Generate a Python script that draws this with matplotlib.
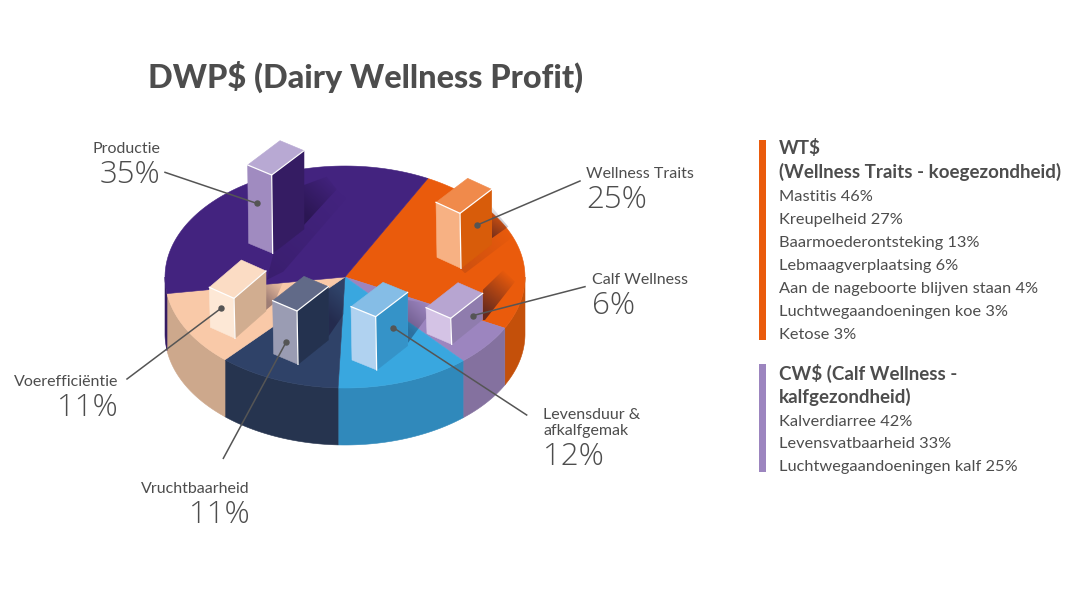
import numpy as np
import matplotlib
matplotlib.use('Agg')
import matplotlib.pyplot as plt
from matplotlib.patches import Polygon, Rectangle

# pie data
slice_names = ['Wellness Traits', 'Calf Wellness', 'Levensduur &\nafkalfgemak',
               'Vruchtbaarheid', 'Voerefficiëntie', 'Productie']
slice_values = [25, 6, 12, 11, 11, 35]

# side lists
wt_names = ['Mastitis', 'Kreupelheid', 'Baarmoederontsteking', 'Lebmaagverplaatsing',
            'Aan de nageboorte blijven staan', 'Luchtwegaandoeningen koe', 'Ketose']
wt_values = [46, 27, 13, 6, 4, 3, 3]
cw_names = ['Kalverdiarree', 'Levensvatbaarheid', 'Luchtwegaandoeningen kalf']
cw_values = [42, 33, 25]

TEXT = '#4d4d4d'
FONT = 'Lato'

# pie geometry in pixels
CX, CY, RX, RY, DEPTH = 345, 277, 180, 111, 57
START = 62.6

top_colors = ['#ea5b0c', '#9c85bf', '#39a7df', '#2f4268', '#f9c9a8', '#43237f']
side_colors = ['#c4500a', '#84719f', '#3089bb', '#26344f', '#cda88c', '#351c63']

# box faces per slice: top, left, right colour
box_colors = [('#f08a4b', '#f7b183', '#d85c0a'),
              ('#b7a5d1', '#d4c3e5', '#8f7cad'),
              ('#85bde6', '#b0d2f0', '#3593c8'),
              ('#616a88', '#9a9cb3', '#24324f'),
              ('#fbdcc4', '#fde8d6', '#d1ad90'),
              ('#b8a9d3', '#a08bc0', '#351c63')]

# front top corner, left vector, right vector, height (zoomed crop units)
box_shape = [((930, 250), (-72, -33), (95, -72), 165),
             ((902, 565), (-74, -32), (96, -75), 78),
             ((677, 560), (-74, -30), (96, -73), 160),
             ((441, 543), (-73, -31), (94, -73), 160),
             ((252, 505), (-74, -33), (96, -82), 120),
             ((365, 135), (-72, -30), (97, -73), 235)]

# drop shadows on the pie surface, zoomed crop units: outline, strength, fade from, fade to
shadows = [([(1025, 325), (1025, 230), (1075, 290)], 0.55, (1025, 325), (1075, 250)),
           ([(930, 415), (1025, 325), (1075, 290), (1090, 320), (945, 430)], 0.12, (950, 400), (1090, 300)),
           ([(998, 570), (998, 480), (1060, 420), (1095, 455), (1005, 570)], 0.6, (1000, 540), (1085, 440)),
           ([(773, 640), (773, 510), (830, 520), (828, 565)], 0.35, (773, 600), (840, 530)),
           ([(535, 620), (535, 470), (583, 445), (583, 550)], 0.4, (535, 560), (590, 500)),
           ([(348, 540), (348, 465), (400, 455), (372, 520)], 0.4, (348, 510), (400, 455)),
           ([(462, 285), (462, 165), (530, 140), (560, 178)], 0.5, (462, 250), (555, 150)),
           ([(350, 450), (370, 372), (462, 285), (560, 178), (590, 205), (400, 425)], 0.18, (370, 440), (590, 190))]

# leaders: text end, dot (zoomed crop units)
leaders = [((1290, 153), (982, 285)),
           ((1305, 470), (968, 557)),
           ((1130, 855), (730, 593)),
           ((220, 985), (408, 637)),
           ((-69, 747), (213, 535)),
           ((45, 127), (320, 220))]


def crop(p):
    return 150 + p[0] / 3, 130 + p[1] / 3


def arc(a, b, dy=0):
    t = np.radians(np.linspace(a, b, 80))
    return np.column_stack([CX + RX * np.cos(t), CY + dy - RY * np.sin(t)])


def add_poly(ax, pts, color, z):
    ax.add_patch(Polygon(pts, closed=True, facecolor=color, edgecolor=color, linewidth=0.4, zorder=z))


def add_shadow(ax, pts, strength, fade0, fade1):
    # dark overlay that fades out along fade0 -> fade1
    pts = np.array([crop(p) for p in pts])
    p0, p1 = np.array(crop(fade0)), np.array(crop(fade1))
    x0, y0 = pts.min(axis=0)
    x1, y1 = pts.max(axis=0)
    xs, ys = np.meshgrid(np.linspace(x0, x1, 80), np.linspace(y0, y1, 80))
    d = p1 - p0
    t = ((xs - p0[0]) * d[0] + (ys - p0[1]) * d[1]) / (d @ d)
    rgba = np.zeros(xs.shape + (4,))
    rgba[..., :3] = (0.08, 0.04, 0.16)
    rgba[..., 3] = strength * (1 - np.clip(t, 0, 1))
    im = ax.imshow(rgba, extent=(x0, x1, y1, y0), aspect='auto', zorder=3, interpolation='bilinear')
    clip = Polygon(pts, closed=True, transform=ax.transData, facecolor='none', edgecolor='none')
    ax.add_patch(clip)
    im.set_clip_path(clip)


def draw_box(ax, front, left, right, h, colors, z):
    fx, fy = crop(front)
    lx, ly = left[0] / 3, left[1] / 3
    rx, ry = right[0] / 3, right[1] / 3
    h = h / 3
    c_top, c_left, c_right = colors
    add_poly(ax, [(fx, fy), (fx + lx, fy + ly), (fx + lx + rx, fy + ly + ry), (fx + rx, fy + ry)], c_top, z)
    add_poly(ax, [(fx, fy), (fx + lx, fy + ly), (fx + lx + 1, fy + ly + h), (fx + 1, fy + h)], c_left, z)
    add_poly(ax, [(fx, fy), (fx + rx, fy + ry), (fx + rx, fy + ry + h), (fx + 1, fy + h)], c_right, z)
    ax.plot([fx + lx, fx, fx + rx], [fy + ly, fy, fy + ry], color='white', lw=0.9, zorder=z + 0.1)
    ax.plot([fx, fx + 1], [fy, fy + h], color='white', lw=0.9, zorder=z + 0.1)


fig = plt.figure(figsize=(10.8, 6.07), dpi=100, facecolor='white')
ax = fig.add_axes([0, 0, 1, 1])
ax.axis('off')

# pie: sides and top, wedge angles come from the values
angle = START
for val, top_c, side_c in zip(slice_values, top_colors, side_colors):
    end = angle - val * 3.6
    add_poly(ax, np.vstack([[(CX, CY)], arc(angle, end)]), top_c, 2)
    # only the lower half of the rim shows
    for a, b in [(angle, end), (angle + 360, end + 360)]:
        a2, b2 = min(a, 0), max(b, -180)
        if a2 > b2:
            add_poly(ax, np.vstack([arc(a2, b2), arc(b2, a2, DEPTH)]), side_c, 1)
    angle = end

for pts, strength, fade0, fade1 in shadows:
    add_shadow(ax, pts, strength, fade0, fade1)

# boxes back to front
for i in [5, 0, 4, 1, 3, 2]:
    front, left, right, h = box_shape[i]
    draw_box(ax, front, left, right, h, box_colors[i], 4 + i * 0.2 if i != 2 else 5.5)

for start, dot in leaders:
    x0, y0 = crop(start)
    x1, y1 = crop(dot)
    ax.plot([x0, x1], [y0, y1], color='#555555', lw=1.1, zorder=7)
    ax.plot(x1, y1, 'o', color='#555555', ms=3.6, zorder=7)

# title
ax.text(148, 77, 'DWP$ (Dairy Wellness Profit)', fontsize=23.3, fontweight='black', color=TEXT,
        family=FONT, va='center', ha='left')

# pie labels: x, name y, pct y, alignment
label_pos = [(586, 174, 200, 'left'), (592, 280, 306, 'left'), (543, 423, 457, 'left'),
             (250, 489, 515, 'right'), (118, 382, 408, 'right'), (160, 149, 175, 'right')]
for name, val, (x, y1, y2, ha) in zip(slice_names, slice_values, label_pos):
    ax.text(x, y1, name, fontsize=11.5, color=TEXT, family=FONT, va='center', ha=ha, linespacing=1.2)
    ax.text(x, y2, f'{val}%', fontsize=22.5, fontweight='light', color=TEXT, family='Open Sans',
            va='center', ha=ha)

# right hand lists
ax.add_patch(Rectangle((759, 140), 6.5, 200, color='#ea5b0c', lw=0))
ax.add_patch(Rectangle((759, 364), 6.5, 108, color='#9c85bf', lw=0))

for y, s in [(148, 'WT$'), (172, '(Wellness Traits - koegezondheid)'),
             (373, 'CW$ (Calf Wellness -'), (397, 'kalfgezondheid)')]:
    ax.text(779, y, s, fontsize=13.5, fontweight='bold', color=TEXT, family=FONT, va='center')

for i, (n, v) in enumerate(zip(wt_names, wt_values)):
    ax.text(779, 197 + i * 23, f'{n} {v}%', fontsize=11.75, color=TEXT, family=FONT, va='center')
for i, (n, v) in enumerate(zip(cw_names, cw_values)):
    ax.text(779, 421.5 + i * 23, f'{n} {v}%', fontsize=11.75, color=TEXT, family=FONT, va='center')

ax.set_xlim(0, 1080)
ax.set_ylim(607, 0)
fig.savefig('out.png', dpi=100)
